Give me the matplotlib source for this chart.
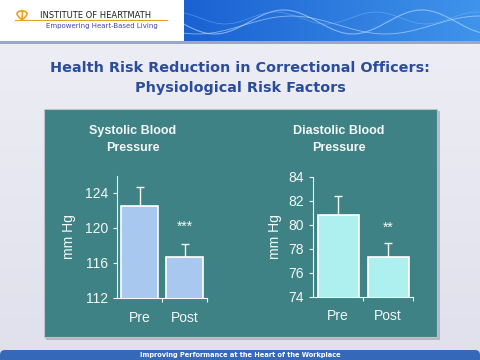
import numpy as np
import matplotlib.pyplot as plt
from matplotlib.patches import Rectangle, FancyBboxPatch

# ---- data ----
categories    = ['Pre', 'Post']
systolic      = [122.5, 116.7]
systolic_err  = [2.1, 1.4]
diastolic     = [80.8, 77.3]
diastolic_err = [1.6, 1.2]
sig_marks     = ['***', '**']
sys_ticks     = [112, 116, 120, 124]
dia_ticks     = [74, 76, 78, 80, 82, 84]

TEAL   = '#3e8285'
WHITE  = '#f4f8f8'
FONT   = 'Liberation Sans'

fig = plt.figure(figsize=(4.8, 3.6), dpi=100)

# background / slide decoration in pixel coordinates
bg = fig.add_axes([0, 0, 1, 1])
bg.set_xlim(0, 480)
bg.set_ylim(360, 0)
bg.axis('off')

grad = np.linspace(0, 1, 100).reshape(-1, 1)
bg.imshow(np.dstack([0.93 - 0.05 * grad, 0.93 - 0.05 * grad, 0.96 - 0.03 * grad]),
          extent=[0, 480, 360, 40], aspect='auto', zorder=0)

# header band
hgrad = np.linspace(0, 1, 200).reshape(1, -1)
band = np.dstack([0.10 + 0.15 * hgrad, 0.38 + 0.2 * hgrad, 0.82 + 0.1 * hgrad])
bg.imshow(band, extent=[180, 480, 43, 0], aspect='auto', zorder=1)
xs = np.linspace(180, 480, 300)
bg.plot(xs, 22 + 12 * np.sin((xs - 180) / 22.0), color='#a9d2ff', lw=0.8, alpha=0.7, zorder=2)
bg.plot(xs, 25 + 9 * np.sin((xs - 150) / 30.0), color='#cfe6ff', lw=0.6, alpha=0.6, zorder=2)
bg.plot(xs, 18 + 6 * np.sin((xs - 200) / 16.0), color='#8fc0f5', lw=0.5, alpha=0.5, zorder=2)
bg.add_patch(Rectangle((0, 0), 184, 43, facecolor='white', edgecolor='none', zorder=3))
bg.add_patch(Rectangle((0, 41), 480, 3, facecolor='#9aa8c4', edgecolor='none', zorder=3))
bg.plot([15, 167], [20, 20], color='#f0a020', lw=0.8, zorder=4)
t = np.linspace(0, 2 * np.pi, 60)
bg.plot(22 + 5 * np.sin(t), 20 - 9 * np.cos(t / 2) * np.sign(np.sin(t)), color='#f0a020', lw=1.2, zorder=4)
bg.text(40, 15, 'INSTITUTE OF HEARTMATH', fontsize=6, family='DejaVu Sans',
        color='#222222', va='center', zorder=5)
bg.text(46, 26, 'Empowering Heart-Based Living', fontsize=5, family='DejaVu Sans',
        color='#4646b0', va='center', zorder=5)

# slide title
bg.text(240, 68, 'Health Risk Reduction in Correctional Officers:', fontsize=10.4,
        family='DejaVu Sans', fontweight='bold', color='#2b4c9b', ha='center', va='center', zorder=5)
bg.text(240, 88, 'Physiological Risk Factors', fontsize=10.4,
        family='DejaVu Sans', fontweight='bold', color='#2b4c9b', ha='center', va='center', zorder=5)

# teal panel with shadow
bg.add_patch(Rectangle((46, 111), 394, 229, facecolor='#9a9aa8', edgecolor='none', alpha=0.6, zorder=3))
bg.add_patch(Rectangle((44, 109), 393, 228, facecolor=TEAL, edgecolor='#b8c4c8', lw=0.8, zorder=4))

# footer
bg.add_patch(FancyBboxPatch((0, 350), 480, 14, boxstyle='round,pad=0,rounding_size=5',
                            facecolor='#3568b8', edgecolor='none', zorder=4))
bg.text(240, 355, 'Improving Performance at the Heart of the Workplace', fontsize=4.8,
        family='DejaVu Sans', fontweight='bold', color='white', ha='center', va='center', zorder=5)

# chart titles
for cx, name in [(133, 'Systolic Blood'), (339, 'Diastolic Blood')]:
    bg.text(cx, 131, name, fontsize=9, family=FONT, fontweight='bold',
            color=WHITE, ha='center', va='center', zorder=5)
    bg.text(cx, 148, 'Pressure', fontsize=9, family=FONT, fontweight='bold',
            color=WHITE, ha='center', va='center', zorder=5)


def bar_panel(rect, values, errs, color, ylim, ticks, ylabel_x, mark):
    ax = fig.add_axes(rect)
    ax.patch.set_alpha(0)
    x = np.arange(len(categories))
    ax.bar(x, values, width=0.82, color=color, edgecolor='white', linewidth=1.2, zorder=2)
    ax.errorbar(x, values, yerr=[[0] * len(errs), errs], fmt='none',
                ecolor=WHITE, elinewidth=1.0, capsize=3, capthick=1.0, zorder=1)
    ax.set_xlim(-0.5, 1.5)
    ax.set_ylim(*ylim)
    ax.set_yticks(ticks)
    ax.set_yticklabels([str(v) for v in ticks], fontsize=10, family=FONT, color=WHITE)
    ax.set_xticks([0.5, 1.5])
    ax.set_xticklabels([])
    for xi, lab in zip(x, categories):
        ax.text(xi, -0.16, lab, transform=ax.get_xaxis_transform(), fontsize=10,
                family=FONT, color=WHITE, ha='center', va='center')
    ax.text(1, 0.58, mark, transform=ax.get_xaxis_transform(), fontsize=10,
            family=FONT, color=WHITE, ha='center', va='center')
    ax.tick_params(axis='both', colors=WHITE, length=3, width=0.8, direction='out')
    for side in ['top', 'right']:
        ax.spines[side].set_visible(False)
    for side in ['left', 'bottom']:
        ax.spines[side].set_color(WHITE)
        ax.spines[side].set_linewidth(0.8)
    ax.set_ylabel('mm Hg', fontsize=10, family=FONT, color=WHITE)
    ax.yaxis.set_label_coords(ylabel_x, 0.5)
    return ax


ax1 = bar_panel([117 / 480, 62 / 360, 90 / 480, 122 / 360], systolic, systolic_err,
                '#a8c8f0', (112, 125.9), sys_ticks, -0.455, sig_marks[0])
ax2 = bar_panel([313 / 480, 63 / 360, 100 / 480, 120 / 360], diastolic, diastolic_err,
                '#aef0f0', (74, 84), dia_ticks, -0.31, sig_marks[1])

fig.savefig('out.png', dpi=100)
